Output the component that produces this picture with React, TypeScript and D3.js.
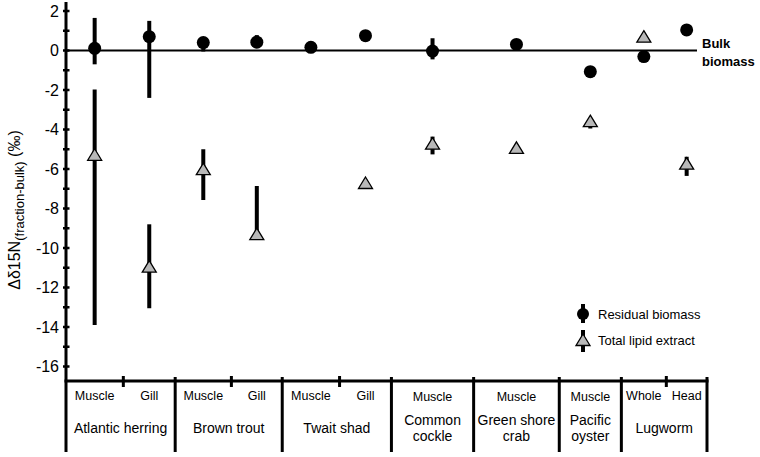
import React from "react";
import * as d3 from "d3";

// ---------- data ----------
const speciesLines: string[][] = [
  ["Atlantic herring"],
  ["Brown trout"],
  ["Twait shad"],
  ["Common", "cockle"],
  ["Green shore", "crab"],
  ["Pacific", "oyster"],
  ["Lugworm"],
];
const sampleSpecies = [0, 0, 1, 1, 2, 2, 3, 4, 5, 6, 6];
const sampleTissue = ["Muscle", "Gill", "Muscle", "Gill", "Muscle", "Gill", "Muscle", "Muscle", "Muscle", "Whole", "Head"];

const residualMean = [0.11, 0.7, 0.4, 0.42, 0.16, 0.75, -0.03, 0.31, -1.07, -0.31, 1.04];
const residualLow: (number | null)[] = [-0.7, -2.4, -0.05, 0.2, null, null, -0.45, null, null, null, null];
const residualHigh: (number | null)[] = [1.65, 1.5, 0.4, 0.78, null, null, 0.62, null, null, null, null];

const lipidMean: (number | null)[] = [-5.28, -10.94, -6.01, -9.3, null, -6.71, -4.72, -4.93, -3.58, 0.7, -5.73];
const lipidLow: (number | null)[] = [-13.9, -13.05, -7.57, -9.5, null, null, -5.26, null, -3.95, null, -6.35];
const lipidHigh: (number | null)[] = [-1.97, -8.8, -5.0, -6.86, null, null, -4.36, null, -3.5, null, -5.38];

const yTickValues = d3.range(-16, 3, 1);
const yLabelValues = [-16, -14, -12, -10, -8, -6, -4, -2, 0, 2];

const seriesNames = ["Residual biomass", "Total lipid extract"];

// ---------- component ----------
export default function App() {
  const W = 760, H = 457;
  const font = "Liberation Sans, Arial, sans-serif";

  // layout
  const groupWeights = [2.55, 2.5, 2.55, 1.92, 2.0, 1.45, 2.0];
  const split = 0.525;
  const cum = [0];
  groupWeights.forEach((w) => cum.push(cum[cum.length - 1] + w));
  const x = d3.scaleLinear().domain([0, cum[cum.length - 1]]).range([66, 707]);
  const y = d3.scaleLinear().domain([-16, 2]).range([366.5, 11]);
  const xAxisY = 381;

  const nPer = speciesLines.map((_, g) => sampleSpecies.filter((s) => s === g).length);
  const subFrac = (i: number) => {
    const g = sampleSpecies[i];
    const k = i - sampleSpecies.indexOf(g);
    if (nPer[g] === 2) return k === 0 ? split / 2 : (1 + split) / 2;
    return 0.5;
  };
  const sampleX = sampleSpecies.map((g, i) => x(cum[g] + subFrac(i) * groupWeights[g]));

  const tri = (cx: number, cy: number) =>
    (d3.line()([
      [cx, cy - 6],
      [cx + 7, cy + 5.5],
      [cx - 7, cy + 5.5],
    ]) as string) + "Z";

  const triFill = "#b8b8b8";

  return (
    <svg width={W} height={H} style={{ position: "absolute", left: 0, top: 0, background: "#fff" }} fontFamily={font}>
      <rect width={W} height={H} fill="#fff" />
      {/* y axis */}
      <line x1={66} x2={66} y1={2} y2={452} stroke="#000" strokeWidth={3} />
      {yTickValues.map((v) => (
        <line key={"t" + v} x1={63} x2={69.5} y1={y(v)} y2={y(v)} stroke="#000" strokeWidth={2.5} />
      ))}
      {yLabelValues.map((v) => (
        <text key={"l" + v} x={59} y={y(v)} dy="0.36em" textAnchor="end" fontSize={16}>
          {v}
        </text>
      ))}
      {/* y label */}
      <text transform="translate(20,210) rotate(-90)" textAnchor="middle" fontSize={16}>
        <tspan>Δδ15N</tspan>
        <tspan fontSize={13} dy={4}>(fraction-bulk)</tspan>
        <tspan dy={-4}> (‰)</tspan>
      </text>

      {/* zero line */}
      <line x1={66} x2={697} y1={y(0)} y2={y(0)} stroke="#000" strokeWidth={2} />
      <text x={702} y={y(0) - 3} fontSize={13} fontWeight="bold">Bulk</text>
      <text x={702} y={y(0) + 15} fontSize={13} fontWeight="bold">biomass</text>

      {/* x axis */}
      <line x1={64.5} x2={708.5} y1={xAxisY} y2={xAxisY} stroke="#000" strokeWidth={3} />
      {cum.slice(1).map((c, i) => (
        <line key={"g" + i} x1={x(c)} x2={x(c)} y1={377} y2={452} stroke="#000" strokeWidth={3} />
      ))}
      {speciesLines.map((_, g) =>
        nPer[g] === 2 ? (
          <line key={"s" + g} x1={x(cum[g] + split * groupWeights[g])} x2={x(cum[g] + split * groupWeights[g])} y1={376} y2={387} stroke="#000" strokeWidth={3} />
        ) : null
      )}
      {sampleTissue.map((t, i) => {
        const g = sampleSpecies[i];
        return (
          <text key={"tl" + i} x={sampleX[i]} y={nPer[g] === 1 ? 400.5 : 400} textAnchor="middle" fontSize={12.5}>
            {t}
          </text>
        );
      })}
      {speciesLines.map((lines, g) => {
        const cx = x(cum[g] + groupWeights[g] / 2);
        if (lines.length === 1)
          return (
            <text key={"sp" + g} x={cx} y={433} textAnchor="middle" fontSize={14}>
              {lines[0]}
            </text>
          );
        return (
          <g key={"sp" + g}>
            <text x={cx} y={425} textAnchor="middle" fontSize={14}>{lines[0]}</text>
            <text x={cx} y={441} textAnchor="middle" fontSize={14}>{lines[1]}</text>
          </g>
        );
      })}

      {/* error bars */}
      {residualMean.map((_, i) =>
        residualLow[i] != null ? (
          <line key={"rb" + i} x1={sampleX[i]} x2={sampleX[i]} y1={y(residualLow[i] as number)} y2={y(residualHigh[i] as number)} stroke="#000" strokeWidth={4} />
        ) : null
      )}
      {lipidMean.map((_, i) =>
        lipidLow[i] != null ? (
          <line key={"lb" + i} x1={sampleX[i]} x2={sampleX[i]} y1={y(lipidLow[i] as number)} y2={y(lipidHigh[i] as number)} stroke="#000" strokeWidth={4} />
        ) : null
      )}
      {/* markers */}
      {lipidMean.map((m, i) =>
        m != null ? <path key={"lm" + i} d={tri(sampleX[i], y(m))} fill={triFill} stroke="#000" strokeWidth={1.3} /> : null
      )}
      {residualMean.map((m, i) => (
        <circle key={"rm" + i} cx={sampleX[i]} cy={y(m)} r={6.5} fill="#000" />
      ))}

      {/* legend */}
      <line x1={583} x2={583} y1={304} y2={323} stroke="#000" strokeWidth={4} />
      <circle cx={583} cy={314} r={6} fill="#000" />
      <text x={598} y={318.5} fontSize={13}>{seriesNames[0]}</text>
      <line x1={583} x2={583} y1={330} y2={352} stroke="#000" strokeWidth={4} />
      <path d={tri(583, 340)} fill={triFill} stroke="#000" strokeWidth={1.3} />
      <text x={598} y={344.5} fontSize={13}>{seriesNames[1]}</text>
    </svg>
  );
}
